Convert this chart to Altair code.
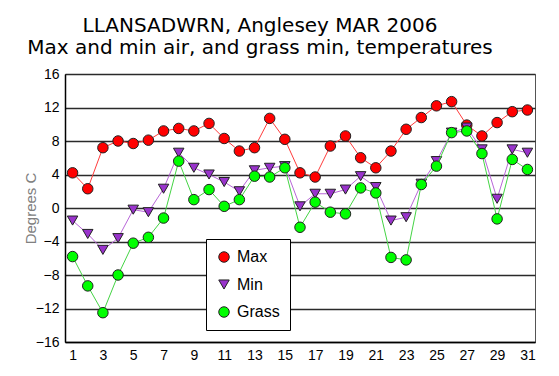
import altair as alt
import pandas as pd

days = list(range(1, 32))
max_temp = [4.2, 2.3, 7.2, 8.0, 7.7, 8.1, 9.2, 9.5, 9.2, 10.1, 8.3, 6.8, 7.2, 10.7, 8.2,
            4.2, 3.7, 7.4, 8.6, 6.0, 4.8, 6.8, 9.4, 10.8, 12.2, 12.7, 9.9, 8.6, 10.2, 11.5, 11.7]
min_temp = [-1.5, -3.1, -5.0, -3.6, -0.2, -0.5, 2.3, 6.6, 4.8, 4.0, 3.1, 2.0, 4.5, 4.8, 5.0,
            0.2, 1.7, 1.7, 2.2, 3.8, 2.5, -1.5, -1.1, 2.9, 5.6, 9.0, 9.6, 7.0, 1.1, 7.0, 6.6]
grass_temp = [-5.8, -9.3, -12.5, -8.0, -4.2, -3.5, -1.2, 5.6, 1.0, 2.2, 0.2, 1.0, 3.8, 3.7, 4.8,
              -2.3, 0.7, -0.5, -0.7, 2.4, 1.8, -5.9, -6.2, 2.8, 5.0, 9.0, 9.2, 6.5, -1.3, 5.8, 4.6]

series = ["Max", "Min", "Grass"]
line_colors = ["#ff3b3b", "#b866d8", "#44d444"]
marker_colors = ["#ff0000", "#9933cc", "#00ff00"]
marker_shapes = ["circle", "triangle-down", "circle"]
x_ticks = list(range(1, 32, 2))
y_ticks = list(range(-16, 17, 4))

rows = []
for name, vals in zip(series, [max_temp, min_temp, grass_temp]):
    for d, v in zip(days, vals):
        rows.append({"day": d, "temp": v, "series": name})
df = pd.DataFrame(rows)

x = alt.X("day:Q",
          scale=alt.Scale(domain=[0.5, 31.5], nice=False, zero=False),
          axis=alt.Axis(values=x_ticks, title=None, ticks=False, grid=False,
                        labelFont="Liberation Sans", labelFontSize=14, labelPadding=6,
                        labelColor="#000", domainColor="#000", domainWidth=1.5,
                        labelFlush=False))
y = alt.Y("temp:Q",
          scale=alt.Scale(domain=[-16, 16], nice=False),
          axis=alt.Axis(values=y_ticks, title="Degrees C", ticks=False, grid=True,
                        gridColor="#2a2a2a", gridWidth=1.5,
                        labelFont="Liberation Sans", labelFontSize=14, labelPadding=6,
                        labelColor="#000", domainColor="#000", domainWidth=1.5,
                        titleFont="Liberation Sans", titleFontSize=15, titleFontWeight="normal",
                        titleColor="#808080", titleAngle=270, titleX=-35, titleY=134,
                        titleAlign="center", titleBaseline="middle"))

legend = alt.Legend(orient="none", legendX=141, legendY=165,
                    fillColor="#ffffff", strokeColor="#000000", padding=10,
                    labelFont="Liberation Sans", labelFontSize=16, labelColor="#000",
                    labelOffset=5, rowPadding=11.5, symbolSize=110,
                    symbolStrokeColor="#222", symbolStrokeWidth=1,
                    labelExpr="datum.label + '                    '")

base = alt.Chart(df)
layers = []
for name, lc in zip(series, line_colors):
    sub = base.transform_filter(alt.datum.series == name)
    layers.append(sub.mark_line(strokeWidth=1, color=lc).encode(x=x, y=y))
    layers.append(sub.mark_point(filled=True, size=110, stroke="#222", strokeWidth=1, opacity=1).encode(
        x=x, y=y,
        color=alt.Color("series:N", scale=alt.Scale(domain=series, range=marker_colors),
                        title="", legend=legend),
        shape=alt.Shape("series:N", scale=alt.Scale(domain=series, range=marker_shapes),
                        title="", legend=legend),
    ))

chart = alt.layer(*layers).properties(
    width=470, height=268,
    autosize=alt.AutoSizeParams(type="none"),
    padding={"left": 57, "top": 66, "right": 16, "bottom": 20},
    title=alt.TitleParams(
        text="LLANSADWRN, Anglesey MAR 2006",
        subtitle="Max and min air, and grass min, temperatures",
        font="DejaVu Sans", fontSize=20, fontWeight="normal", color="#000",
        subtitleFont="DejaVu Sans", subtitleFontSize=20, subtitleFontWeight="normal",
        subtitleColor="#000", subtitlePadding=2,
        anchor="middle", dx=-40, offset=9),
).configure_view(stroke="#555", strokeWidth=1)

chart.save("out.html", embed_options={"renderer": "svg", "actions": False})
